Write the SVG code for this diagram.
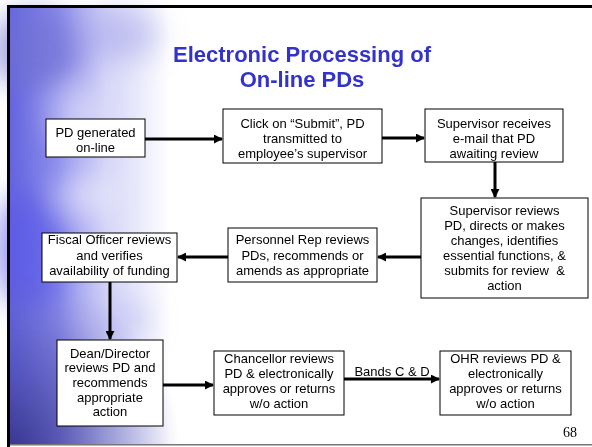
<svg xmlns="http://www.w3.org/2000/svg" width="592" height="447" viewBox="0 0 592 447">
<defs>
<style>
.box{fill:#fff;stroke:#000;stroke-width:1}
.t{font-family:"Liberation Sans",Arial,sans-serif;font-size:13px;fill:#000;text-anchor:middle}
.title{font-family:"Liberation Sans",Arial,sans-serif;font-size:22px;font-weight:bold;fill:#3333cc;text-anchor:middle}
.c{stroke:#000;stroke-width:3;fill:none;marker-end:url(#ah)}
</style>
<marker id="ah" viewBox="0 0 10 10" refX="9" refY="5" markerWidth="3" markerHeight="3" orient="auto" markerUnits="strokeWidth">
<path d="M0,0 L10,5 L0,10 z" fill="#000"/>
</marker>
<linearGradient id="bg" x1="10" y1="0" x2="170" y2="0" gradientUnits="userSpaceOnUse">
<stop offset="0" stop-color="#6565e0"/>
<stop offset="0.3" stop-color="#8c8cec"/>
<stop offset="0.6" stop-color="#d4d4f8"/>
<stop offset="1" stop-color="#ffffff"/>
</linearGradient>
<radialGradient id="bl" cx="10" cy="447" r="170" gradientUnits="userSpaceOnUse">
<stop offset="0" stop-color="#303080" stop-opacity="0.85"/>
<stop offset="0.6" stop-color="#4848a8" stop-opacity="0.4"/>
<stop offset="1" stop-color="#6060c0" stop-opacity="0"/>
</radialGradient>
<filter id="blur" x="-50%" y="-50%" width="200%" height="200%"><feGaussianBlur stdDeviation="14"/></filter>
</defs>
<rect x="0" y="0" width="592" height="447" fill="#fff"/>
<rect x="10" y="8" width="582" height="437" fill="url(#bg)"/>
<g filter="url(#blur)">
<ellipse cx="35" cy="50" rx="45" ry="40" fill="#7070d0" opacity="0.6"/>
<ellipse cx="120" cy="35" rx="40" ry="25" fill="#a0a0ea" opacity="0.5"/>
<ellipse cx="30" cy="250" rx="35" ry="60" fill="#5555e8" opacity="0.6"/>
<ellipse cx="85" cy="195" rx="30" ry="22" fill="#ffffff" opacity="0.45"/>
<ellipse cx="75" cy="115" rx="28" ry="30" fill="#ffffff" opacity="0.4"/>
<ellipse cx="115" cy="320" rx="35" ry="22" fill="#b8b8f2" opacity="0.5"/>
</g>
<rect x="10" y="8" width="582" height="437" fill="url(#bl)"/>
<rect x="7" y="5" width="585" height="3" fill="#000"/>
<rect x="7" y="5" width="3" height="442" fill="#000"/>
<rect x="10" y="444" width="582" height="1.5" fill="#777"/>

<g id="title">
<text class="title" x="302" y="62">Electronic Processing of</text>
<text class="title" x="302" y="87">On-line PDs</text>
</g>

<g id="connectors">
<line class="c" x1="145" y1="139" x2="222" y2="139"/>
<line class="c" x1="382" y1="138" x2="424" y2="138"/>
<line class="c" x1="495" y1="162" x2="495" y2="197"/>
<line class="c" x1="421" y1="257" x2="378" y2="257"/>
<line class="c" x1="228" y1="257" x2="178" y2="257"/>
<line class="c" x1="110" y1="282" x2="110" y2="339"/>
<line class="c" x1="163" y1="385" x2="213" y2="385"/>
<line class="c" x1="344" y1="379" x2="439" y2="379"/>
<text class="t" x="392" y="376">Bands C &amp; D</text>
</g>

<g id="n1">
<rect class="box" x="46" y="119" width="99" height="38"/>
<text class="t" x="95.5" y="136.5">PD generated</text>
<text class="t" x="95.5" y="151.5">on-line</text>
</g>
<g id="n2">
<rect class="box" x="223" y="109" width="159" height="54"/>
<text class="t" x="302.5" y="127.5">Click on “Submit”, PD</text>
<text class="t" x="302.5" y="142.5">transmitted to</text>
<text class="t" x="302.5" y="157.5">employee’s supervisor</text>
</g>
<g id="n3">
<rect class="box" x="425" y="109" width="138" height="53"/>
<text class="t" x="494" y="127.5">Supervisor receives</text>
<text class="t" x="494" y="142.5">e-mail that PD</text>
<text class="t" x="494" y="157.5">awaiting review</text>
</g>
<g id="n4">
<rect class="box" x="421" y="198" width="167" height="100"/>
<text class="t" x="504.5" y="215">Supervisor reviews</text>
<text class="t" x="504.5" y="230">PD, directs or makes</text>
<text class="t" x="504.5" y="245">changes, identifies</text>
<text class="t" x="504.5" y="260">essential functions, &amp;</text>
<text class="t" x="504.5" y="275" xml:space="preserve">submits for review  &amp;</text>
<text class="t" x="504.5" y="290">action</text>
</g>
<g id="n5">
<rect class="box" x="228" y="228" width="149" height="54"/>
<text class="t" x="302.5" y="244">Personnel Rep reviews</text>
<text class="t" x="302.5" y="259.5">PDs, recommends or</text>
<text class="t" x="302.5" y="275">amends as appropriate</text>
</g>
<g id="n6">
<rect class="box" x="42" y="233" width="135" height="49"/>
<text class="t" x="109.5" y="244">Fiscal Officer reviews</text>
<text class="t" x="109.5" y="259.5">and verifies</text>
<text class="t" x="109.5" y="275">availability of funding</text>
</g>
<g id="n7">
<rect class="box" x="57" y="340" width="106" height="86"/>
<text class="t" x="110" y="357.5">Dean/Director</text>
<text class="t" x="110" y="372">reviews PD and</text>
<text class="t" x="110" y="386.5">recommends</text>
<text class="t" x="110" y="401.5">appropriate</text>
<text class="t" x="110" y="416">action</text>
</g>
<g id="n8">
<rect class="box" x="214" y="351" width="130" height="64"/>
<text class="t" x="279" y="362.5">Chancellor reviews</text>
<text class="t" x="279" y="377.5">PD &amp; electronically</text>
<text class="t" x="279" y="392.5">approves or returns</text>
<text class="t" x="279" y="408">w/o action</text>
</g>
<g id="n9">
<rect class="box" x="440" y="351" width="131" height="64"/>
<text class="t" x="505.5" y="362.5">OHR reviews PD &amp;</text>
<text class="t" x="505.5" y="377.5">electronically</text>
<text class="t" x="505.5" y="392.5">approves or returns</text>
<text class="t" x="505.5" y="408">w/o action</text>
</g>
<text x="577" y="437" font-family="'Liberation Serif','Times New Roman',serif" font-size="14" text-anchor="end" fill="#000">68</text>
</svg>
